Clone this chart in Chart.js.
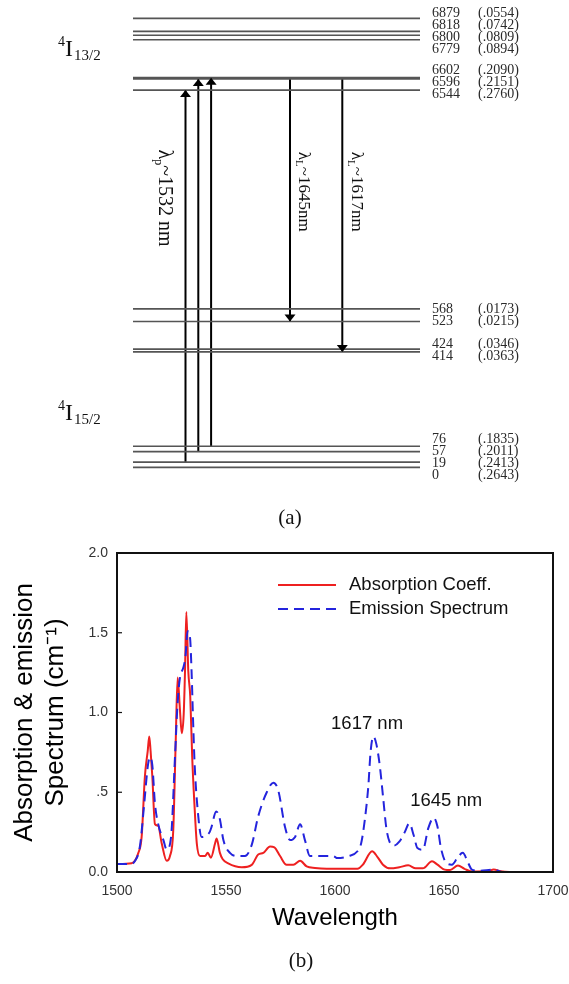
<!DOCTYPE html>
<html>
<head>
<meta charset="utf-8">
<script src="https://cdn.jsdelivr.net/npm/chart.js@4.4.1/dist/chart.umd.min.js"></script>
<style>
  html, body { margin: 0; padding: 0; background: #fff; overflow: hidden; }
  #wrap { position: relative; width: 569px; height: 984px; overflow: hidden; }
  canvas { position: absolute; left: 0; }
  #levels { top: 0; }
  #spectrum { top: 530px; }
  .cap { position: absolute; font: 21px "Liberation Serif", "Times New Roman", serif; color: #111;
         transform: translate(-50%, -50%); white-space: nowrap; }
</style>
</head>
<body>
<div id="wrap">
  <canvas id="levels" width="569" height="530"></canvas>
  <canvas id="spectrum" width="600" height="454"></canvas>
  <div class="cap" style="left:290px; top:517px">(a)</div>
  <div class="cap" style="left:301px; top:960px">(b)</div>
</div>
<script>
// (a) Stark levels (cm-1) and relative populations
const upperLevels = [6879, 6818, 6800, 6779, 6602, 6596, 6544];
const upperPops = ['(.0554)', '(.0742)', '(.0809)', '(.0894)', '(.2090)', '(.2151)', '(.2760)'];
const lowerLevels = [568, 523, 424, 414, 76, 57, 19, 0];
const lowerPops = ['(.0173)', '(.0215)', '(.0346)', '(.0363)', '(.1835)', '(.2011)', '(.2413)', '(.2643)'];
const pumpFrom = [19, 57, 76];
const pumpTo = [6544, 6596, 6602];
const laserFrom = [6602, 6602];
const laserTo = [523, 414];
const laserNm = ['1645', '1617'];
const pumpNm = '1532';

// (b) spectra
const absWavelength = [1500, 1506.7, 1509.8, 1511.3, 1512.8, 1514.1, 1514.8, 1515.4, 1516.2, 1517.4, 1518.9, 1520.5,
  1522.8, 1524.3, 1525.8, 1526.9, 1527.8, 1528.9, 1529.7, 1530.6, 1531.2, 1531.8, 1532.7, 1533.6, 1534.5, 1535.5,
  1536.6, 1538.1, 1540.4, 1541.6, 1543.1, 1545.0, 1545.7, 1547.2, 1548.5, 1551.0, 1557.2, 1561.8, 1564.8, 1567.1,
  1570.2, 1572.2, 1574.8, 1577.8, 1580.9, 1584.0, 1587.0, 1590.8, 1596.2, 1610.3, 1612.8, 1617.0, 1619.5, 1622.0,
  1625.3, 1629.5, 1633.6, 1637.0, 1640.3, 1644.5, 1647.0, 1650.3, 1652.8, 1656.4, 1659.4, 1662.8, 1670.0, 1672.8,
  1676.0, 1680.0, 1700];
const absCoeff = [0.05, 0.055, 0.12, 0.22, 0.60, 0.76, 0.85, 0.76, 0.60, 0.30, 0.29, 0.18,
  0.07, 0.10, 0.26, 0.80, 1.22, 1.01, 0.87, 0.99, 1.26, 1.63, 1.26, 1.10, 0.72, 0.43,
  0.18, 0.10, 0.10, 0.12, 0.09, 0.18, 0.21, 0.12, 0.08, 0.054, 0.03, 0.045, 0.11, 0.12,
  0.16, 0.155, 0.10, 0.045, 0.045, 0.07, 0.035, 0.025, 0.02, 0.02, 0.046, 0.13, 0.094, 0.046,
  0.023, 0.03, 0.042, 0.023, 0.023, 0.067, 0.046, 0.015, 0.012, 0.04, 0.02, 0.003, 0.004, 0.015,
  0.004, 0, 0];
const emWavelength = [1500, 1506, 1508.3, 1510.5, 1512.5, 1514.1, 1515.1, 1516.2, 1517.4, 1518.9, 1521.3, 1522.8,
  1524.8, 1526.6, 1527.8, 1528.9, 1530.4, 1531.4, 1532.4, 1533.5, 1534.2, 1534.9, 1535.6, 1537.0, 1538.8, 1541.0,
  1542.5, 1543.3, 1545.5, 1547.2, 1548.8, 1551.8, 1555.6, 1558.7, 1561.8, 1564.8, 1568.7, 1571.7, 1574.0, 1577.1,
  1579.4, 1581.7, 1584.0, 1586.2, 1588.5, 1591.6, 1595.4, 1599.0, 1601.2, 1606.2, 1610.3, 1612.0, 1613.7, 1615.3,
  1616.3, 1617.6, 1619.0, 1620.6, 1622.2, 1623.5, 1625.0, 1627.0, 1629.5, 1632.0, 1634.1, 1636.1, 1637.8, 1640.3,
  1642.8, 1645.3, 1647.0, 1648.6, 1651.1, 1653.6, 1656.4, 1658.6, 1661.1, 1662.8, 1666.0, 1672.8, 1676.0, 1678.0];
const emSpectrum = [0.05, 0.05, 0.07, 0.16, 0.43, 0.66, 0.72, 0.67, 0.43, 0.30, 0.20, 0.14,
  0.22, 0.72, 1.06, 1.22, 1.28, 1.35, 1.51, 1.47, 1.26, 0.95, 0.68, 0.39, 0.22, 0.23,
  0.25, 0.28, 0.38, 0.33, 0.20, 0.12, 0.10, 0.10, 0.17, 0.35, 0.50, 0.56, 0.51, 0.28,
  0.20, 0.22, 0.30, 0.20, 0.10, 0.10, 0.10, 0.10, 0.087, 0.10, 0.13, 0.18, 0.33, 0.54,
  0.75, 0.85, 0.80, 0.66, 0.45, 0.28, 0.19, 0.165, 0.19, 0.25, 0.306, 0.23, 0.15, 0.14,
  0.275, 0.34, 0.285, 0.15, 0.056, 0.046, 0.094, 0.12, 0.056, 0.015, 0.008, 0.015, 0.002, 0];
const peakNotes = ['1617 nm', '1645 nm'];
const peakNoteAt = [[1614.7, 0.93], [1651, 0.444]];

Chart.defaults.font.family = '"Liberation Sans", Arial, sans-serif';
Chart.defaults.animation = false;

const SERIF = '"Liberation Serif", "Times New Roman", serif';

// broken axis: upper manifold is squeezed and moved down like the schematic
function levelY(e) {
  return e < 3000 ? e : 1352 + (e - 6544) * 0.7675;
}

// push labels apart so they don't overlap, keep groups centred
function spread(ys, gap) {
  let groups = ys.map(y => ({ ys: [y], top: y }));
  let merged = true;
  while (merged) {
    merged = false;
    for (let i = 0; i < groups.length - 1; i++) {
      const a = groups[i], b = groups[i + 1];
      if (b.top - (a.top + (a.ys.length - 1) * gap) < gap) {
        const all = a.ys.concat(b.ys);
        const mean = all.reduce((s, v) => s + v, 0) / all.length;
        groups.splice(i, 2, { ys: all, top: mean - (all.length - 1) * gap / 2 });
        merged = true;
        break;
      }
    }
  }
  const out = [];
  groups.forEach(g => g.ys.forEach((_, k) => out.push(g.top + k * gap)));
  return out;
}

const LINE_X0 = 133, LINE_X1 = 420;
const allLevels = upperLevels.concat(lowerLevels);
const allPops = upperPops.concat(lowerPops);

const levelSets = allLevels.map(e => ({
  data: [{ x: LINE_X0, y: levelY(e) }, { x: LINE_X1, y: levelY(e) }],
  borderColor: '#555', borderWidth: 1.7, pointRadius: 0
}));
const pumpX = pumpFrom.map((_, i) => 185.5 + i * 12.8);
const laserX = laserFrom.map((_, i) => 290 + i * 52.3);
const arrowSets = pumpFrom.map((e, i) => ({
  data: [{ x: pumpX[i], y: levelY(e) }, { x: pumpX[i], y: levelY(pumpTo[i]) }],
  borderColor: '#000', borderWidth: 2, pointRadius: 0, arrow: true
})).concat(laserFrom.map((e, i) => ({
  data: [{ x: laserX[i], y: levelY(e) }, { x: laserX[i], y: levelY(laserTo[i]) }],
  borderColor: '#000', borderWidth: 2, pointRadius: 0, arrow: true
})));

function drawTerm(ctx, x, baseY, sub) {
  ctx.textAlign = 'left';
  ctx.textBaseline = 'alphabetic';
  ctx.font = '14px ' + SERIF;
  ctx.fillText('4', x, baseY - 10);
  ctx.font = '24px ' + SERIF;
  ctx.fillText('I', x + 7, baseY);
  const w = ctx.measureText('I').width;
  ctx.font = '15px ' + SERIF;
  ctx.fillText(sub, x + 7 + w + 1, baseY + 4);
}

// rotated label: lambda, subscript, rest of text
function drawLambda(ctx, cx, cy, sub, rest, size) {
  ctx.save();
  ctx.translate(cx, cy);
  ctx.rotate(Math.PI / 2);
  ctx.textAlign = 'left';
  ctx.textBaseline = 'alphabetic';
  const big = size + 'px ' + SERIF, small = Math.round(size * 0.62) + 'px ' + SERIF;
  ctx.font = big; const w1 = ctx.measureText('λ').width;
  ctx.font = small; const w2 = ctx.measureText(sub).width;
  ctx.font = big; const w3 = ctx.measureText(rest).width;
  let x = -(w1 + w2 + w3) / 2;
  const base = size * 0.33;
  ctx.font = big; ctx.fillText('λ', x, base); x += w1;
  ctx.font = small; ctx.fillText(sub, x, base + size * 0.22); x += w2;
  ctx.font = big; ctx.fillText(rest, x, base);
  ctx.restore();
}

const levelText = {
  id: 'levelText',
  afterDatasetsDraw(chart) {
    const ctx = chart.ctx;
    const y = chart.scales.y, x = chart.scales.x;
    ctx.save();
    ctx.fillStyle = '#000';
    // arrow heads
    chart.data.datasets.forEach((ds, i) => {
      if (!ds.arrow) return;
      const pts = chart.getDatasetMeta(i).data;
      const tip = pts[1], dir = Math.sign(pts[1].y - pts[0].y);
      ctx.beginPath();
      ctx.moveTo(tip.x, tip.y);
      ctx.lineTo(tip.x - 5.5, tip.y - dir * 7);
      ctx.lineTo(tip.x + 5.5, tip.y - dir * 7);
      ctx.closePath();
      ctx.fill();
    });
    // level numbers and populations
    const lineYs = allLevels.map(e => y.getPixelForValue(levelY(e)));
    const labelYs = spread(lineYs, 12);
    ctx.fillStyle = '#2a2a2a';
    ctx.font = '14px ' + SERIF;
    ctx.textAlign = 'left';
    ctx.textBaseline = 'middle';
    allLevels.forEach((e, i) => {
      ctx.fillText(String(e), x.getPixelForValue(LINE_X1) + 12, labelYs[i]);
      ctx.fillText(allPops[i], x.getPixelForValue(LINE_X1) + 58, labelYs[i]);
    });
    // manifold names
    ctx.fillStyle = '#111';
    drawTerm(ctx, 58, y.getPixelForValue(levelY(6740)) + 8, '13/2');
    drawTerm(ctx, 58, y.getPixelForValue(levelY(200)) + 8, '15/2');
    // transition labels
    const pTop = y.getPixelForValue(levelY(pumpTo[0]));
    drawLambda(ctx, x.getPixelForValue(pumpX[0]) - 20, pTop + 108, 'p', '~' + pumpNm + ' nm', 20);
    laserFrom.forEach((e, i) => {
      const top = y.getPixelForValue(levelY(e));
      drawLambda(ctx, x.getPixelForValue(laserX[i]) + 15, top + 114, 'L', '~' + laserNm[i] + 'nm', 17);
    });
    ctx.restore();
  }
};

new Chart(document.getElementById('levels'), {
  type: 'line',
  data: { datasets: levelSets.concat(arrowSets) },
  options: {
    responsive: false,
    layout: { padding: 0 },
    plugins: { legend: { display: false }, tooltip: { enabled: false } },
    scales: {
      x: { type: 'linear', display: false, min: 0, max: 569 },
      y: { type: 'linear', display: false, min: -224.1, max: 1674.8 }
    }
  },
  plugins: [levelText]
});

// (b) spectrum
const specExtras = {
  id: 'specExtras',
  afterDraw(chart) {
    const { ctx, chartArea: a } = chart;
    const x = chart.scales.x, y = chart.scales.y;
    ctx.save();
    ctx.strokeStyle = '#111';
    ctx.lineWidth = 2;
    ctx.strokeRect(a.left, a.top, a.right - a.left, a.bottom - a.top);
    ctx.lineWidth = 1.2;
    y.ticks.forEach(t => {
      const py = y.getPixelForValue(t.value);
      ctx.beginPath(); ctx.moveTo(a.left, py); ctx.lineTo(a.left + 5, py); ctx.stroke();
    });
    // legend inside plot
    chart.data.datasets.forEach((ds, i) => {
      const ly = a.top + 32 + i * 24;
      ctx.strokeStyle = ds.borderColor;
      ctx.lineWidth = 2;
      ctx.setLineDash(ds.borderDash || []);
      ctx.beginPath(); ctx.moveTo(a.left + 161, ly); ctx.lineTo(a.left + 219, ly); ctx.stroke();
      ctx.setLineDash([]);
      ctx.fillStyle = '#111';
      ctx.font = '18.5px "Liberation Sans", Arial, sans-serif';
      ctx.textAlign = 'left';
      ctx.textBaseline = 'middle';
      ctx.fillText(ds.label, a.left + 232, ly);
    });
    ctx.textAlign = 'center';
    peakNotes.forEach((t, i) => {
      ctx.fillText(t, x.getPixelForValue(peakNoteAt[i][0]), y.getPixelForValue(peakNoteAt[i][1]));
    });
    ctx.restore();
  }
};

new Chart(document.getElementById('spectrum'), {
  type: 'line',
  data: {
    datasets: [
      {
        label: 'Absorption Coeff.',
        data: absWavelength.map((w, i) => ({ x: w, y: absCoeff[i] })),
        borderColor: '#ee2020', borderWidth: 2, pointRadius: 0,
        cubicInterpolationMode: 'monotone', order: 1
      },
      {
        label: 'Emission Spectrum',
        data: emWavelength.map((w, i) => ({ x: w, y: emSpectrum[i] })),
        borderColor: '#2424dd', borderWidth: 2, borderDash: [10, 6], pointRadius: 0,
        cubicInterpolationMode: 'monotone', order: 0
      }
    ]
  },
  options: {
    responsive: false,
    layout: { padding: { top: 23, right: 47, left: 0, bottom: 0 } },
    plugins: { legend: { display: false }, tooltip: { enabled: false } },
    scales: {
      x: {
        type: 'linear', min: 1500, max: 1700,
        grid: { display: false }, border: { display: false },
        ticks: { stepSize: 50, color: '#333', font: { size: 14 }, padding: 3, maxRotation: 0,
                 callback: v => String(v) },
        title: { display: true, text: 'Wavelength', color: '#000', font: { size: 24 }, padding: { top: 0, bottom: 51.6 } },
        afterFit(s) { s.height = 112; }
      },
      y: {
        min: 0, max: 2,
        grid: { display: false }, border: { display: false },
        ticks: {
          stepSize: 0.5, color: '#333', font: { size: 14 }, padding: 1,
          callback: v => v === 0 ? '0.0' : v === 0.5 ? '.5' : v.toFixed(1)
        },
        title: {
          display: true, text: ['Absorption & emission', 'Spectrum (cm⁻¹)'], color: '#000',
          font: { size: 26 }, padding: { top: 9, bottom: 0 }
        },
        afterFit(s) { s.width = 117; }
      }
    }
  },
  plugins: [specExtras]
});
</script>
</body>
</html>
